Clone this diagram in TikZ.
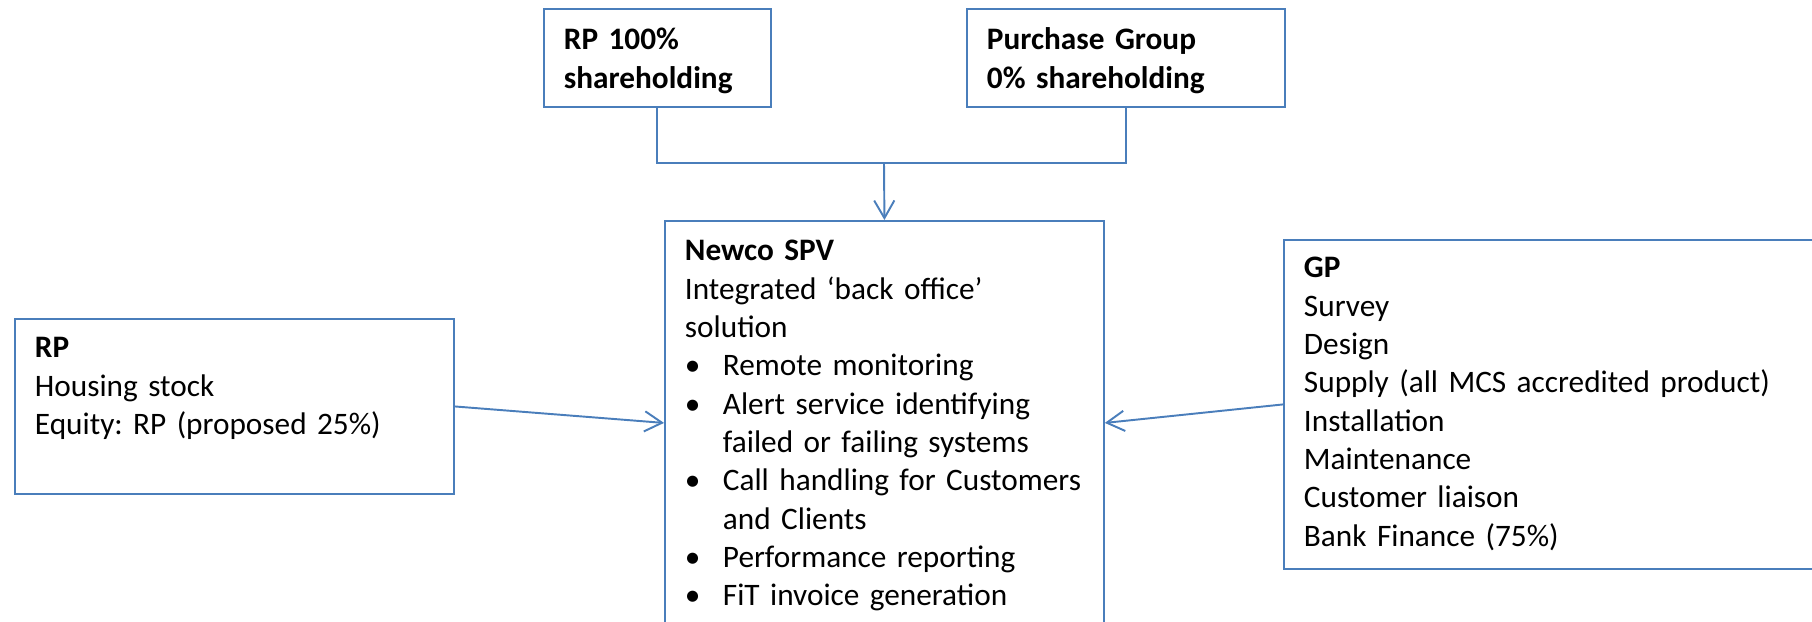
\documentclass[tikz,border=0pt]{standalone}
\usepackage{fontspec}
\setmainfont{Carlito}
\usetikzlibrary{arrows.meta}
\definecolor{boxblue}{RGB}{74,126,187}
\newcommand{\boxfont}{\fontsize{17.8pt}{21.8pt}\selectfont\frenchspacing}
\tikzstyle{party} = [rectangle, draw=boxblue, line width=1.1pt, anchor=north west, align=left, inner xsep=0.4cm, inner ysep=0pt, font=\boxfont]
\tikzstyle{line} = [draw=boxblue, line width=1.1pt]
\tikzstyle{arrow} = [line, -{Straight Barb[length=10pt,width=11.5pt]}]

\begin{document}
\begin{tikzpicture}[x=0.02cm, y=-0.02cm]
	\useasboundingbox (0,0) rectangle (1812,622);
	\clip (0,0) rectangle (1812,622);
	\node (shr) [party, text width=3.74cm, text height=0.82cm, text depth=1.14cm] at (543,8) {\textbf{RP 100\%}\\\textbf{shareholding}};
	\node (pg) [party, text width=5.56cm, text height=0.82cm, text depth=1.14cm] at (966,8) {\textbf{Purchase Group}\\\textbf{0\% shareholding}};
	\node (spv) [party, text width=7.98cm, text height=0.8cm, text depth=7.28cm] at (664,220) {\textbf{Newco SPV}\\Integrated ‘back office’\\solution\\
		\begin{tabular}[t]{@{}p{0.76cm}@{}l@{}}
		\textbullet & Remote monitoring\\
		\textbullet & Alert service identifying\\
		            & failed or failing systems\\
		\textbullet & Call handling for Customers\\
		            & and Clients\\
		\textbullet & Performance reporting\\
		\textbullet & FiT invoice generation
		\end{tabular}};
	\node (rp) [party, text width=7.98cm, text height=0.78cm, text depth=2.72cm] at (14,318) {\textbf{RP}\\Housing stock\\Equity: RP (proposed 25\%)};
	\node (gp) [party, text width=10.14cm, text height=0.76cm, text depth=5.82cm] at (1283,239) {\textbf{GP}\\Survey\\Design\\Supply (all MCS accredited product)\\Installation\\Maintenance\\Customer liaison\\Bank Finance (75\%)};
	\coordinate (merge) at (884,163);

	\draw [line] (shr.south) |- (merge) -| (pg.south);
	\draw [arrow] (merge) -- (spv.north);
	\draw [arrow] (rp.east) -- (spv.west);
	\draw [arrow] (gp.west) -- (spv.east);
\end{tikzpicture}
\end{document}
